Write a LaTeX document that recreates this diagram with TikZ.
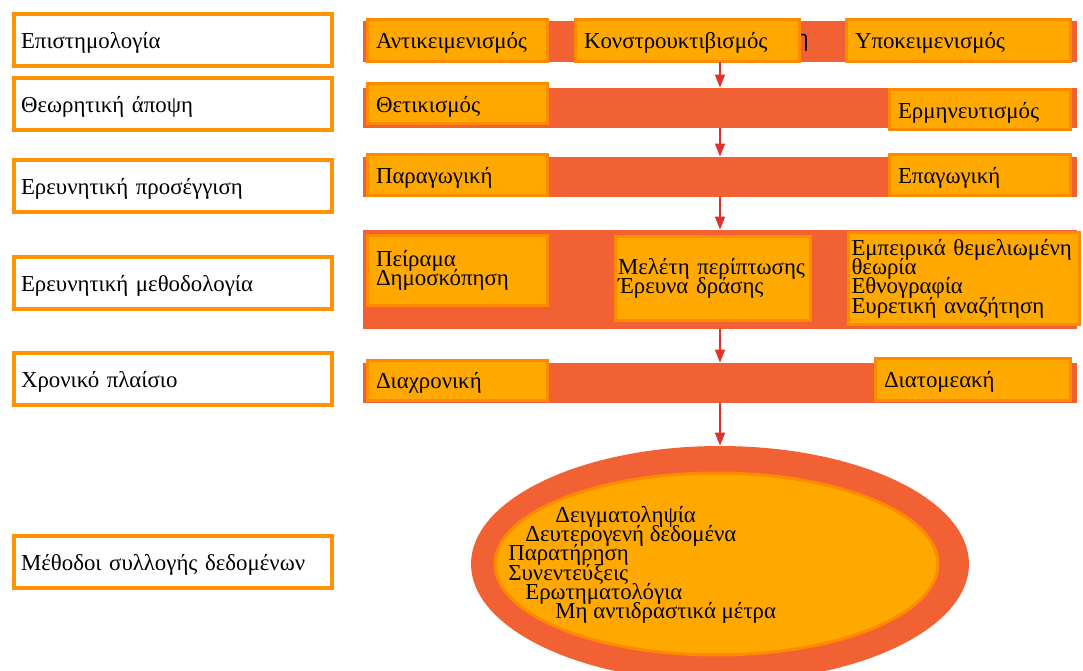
\documentclass[tikz,border=0pt]{standalone}
\usepackage{fontspec}
\setmainfont{Liberation Serif}
\newfontfamily\hiddenfont{Liberation Sans}
\usepackage{xcolor}
\usetikzlibrary{shapes.geometric,arrows.meta}
\setlength{\lineskiplimit}{-10pt}
\setlength{\normallineskiplimit}{-10pt}

\definecolor{barred}{RGB}{242,97,51}
\definecolor{boxfill}{RGB}{255,168,0}
\definecolor{boxline}{RGB}{255,138,0}
\definecolor{leftline}{RGB}{255,146,0}
\definecolor{arrowred}{RGB}{222,52,46}

\tikzset{
  level/.style={draw=leftline, line width=0.08cm, fill=white, minimum width=6.36cm,
    minimum height=1.04cm, text width=6.08cm, inner xsep=0.14cm, inner ysep=0pt,
    text depth=0pt, align=left},
  bar/.style={fill=barred, minimum width=14.28cm, inner sep=0pt},
  item/.style={draw=boxline, fill=boxfill, line width=0.06cm, inner xsep=0.17cm,
    inner ysep=0pt, align=left},
  option/.style={item, text depth=0pt},
  flow/.style={draw=arrowred, line width=0.8pt, -{Triangle[length=0.26cm,width=0.2cm]}}
}

\begin{document}
\begin{tikzpicture}[x=0.02cm, y=-0.02cm, font=\fontsize{13}{11}\selectfont]
    \useasboundingbox (0,0) rectangle (1083,671);
    \clip (0,0) rectangle (1083,671);

    % Draw the levels on the left
    \node[level] (epist) at (173,40.5) {Επιστημολογία};
    \node[level] (theory) at (173,104.5) {Θεωρητική άποψη};
    \node[level] (approach) at (173,186.5) {Ερευνητική προσέγγιση};
    \node[level] (method) at (173,283.5) {Ερευνητική μεθοδολογία};
    \node[level] (time) at (173,379.5) {Χρονικό πλαίσιο};
    \node[level] (collect) at (173,562) {Μέθοδοι συλλογής δεδομένων};

    % Draw the bars behind the options
    \node[bar, minimum height=0.82cm] (bar1) at (720,41.5) {};
    \node[bar, minimum height=0.80cm] (bar2) at (720,108) {};
    \node[bar, minimum height=0.80cm] (bar3) at (720,177) {};
    \node[bar, minimum height=1.98cm] (bar4) at (720,279.5) {};
    \node[bar, minimum height=0.80cm] (bar5) at (720,383) {};
    \node[anchor=east, inner sep=0pt, font=\hiddenfont\fontsize{13}{13}\selectfont] (hidden) at (809,43) {η};

    % Draw the options on the bars
    \node[option, text width=3.26cm, minimum height=0.84cm] (objective) at (457.5,40.5) {Αντικειμενισμός};
    \node[option, text width=4.14cm, minimum height=0.84cm] (construct) at (687.5,40.5) {Κονστρουκτιβισμός};
    \node[option, text width=4.14cm, minimum height=0.84cm] (subjective) at (958.5,40.5) {Υποκειμενισμός};
    \node[option, text width=3.26cm, minimum height=0.80cm] (positive) at (457.5,104) {Θετικισμός};
    \node[option, text width=3.28cm, minimum height=0.80cm] (interpret) at (980,110) {Ερμηνευτισμός};
    \node[option, text width=3.26cm, minimum height=0.82cm] (deduct) at (457.5,175) {Παραγωγική};
    \node[option, text width=3.28cm, minimum height=0.82cm] (induct) at (980,175) {Επαγωγική};
    \node[item, text width=3.26cm, minimum height=1.40cm] (experiment) at (457.5,270.5) {Πείραμα\\Δημοσκόπηση};
    \node[item, text width=3.80cm, inner xsep=0.05cm, minimum height=1.68cm] (casestudy) at (713,278.5) {Μελέτη περίπτωσης\\Έρευνα δράσης};
    \node[item, text width=4.50cm, inner xsep=0.06cm, minimum height=1.84cm] (grounded) at (964,278.5) {Εμπειρικά θεμελιωμένη\\θεωρία\\Εθνογραφία\\Ευρετική αναζήτηση};
    \node[option, text width=3.26cm, minimum height=0.80cm] (longit) at (457.5,380.5) {Διαχρονική};
    \node[option, text width=3.56cm, minimum height=0.84cm] (cross) at (973,379.5) {Διατομεακή};

    % Draw the ellipse of the collection methods
    \node[ellipse, fill=barred, minimum width=9.96cm, minimum height=4.72cm, inner sep=0pt] (methods) at (720,564) {};
    \node[ellipse, draw=boxline, fill=boxfill, line width=0.06cm, minimum width=8.86cm,
      minimum height=3.64cm, inner sep=0pt] (methodsin) at (716.5,564) {};
    \node[anchor=west, align=left, inner sep=0pt] (methodlist) at (508,565)
      {\hspace*{0.94cm}Δειγματοληψία\\\hspace*{0.34cm}Δευτερογενή δεδομένα\\Παρατήρηση\\Συνεντεύξεις\\
       \hspace*{0.34cm}Ερωτηματολόγια\\\hspace*{0.94cm}Μη αντιδραστικά μέτρα};

    % Draw the arrows between the bars
    \draw[flow] (bar1.south) -- (bar2.north);
    \draw[flow] (bar2.south) -- (bar3.north);
    \draw[flow] (bar3.south) -- (bar4.north);
    \draw[flow] (bar4.south) -- (bar5.north);
    \draw[flow] (bar5.south) -- (methods.north);
\end{tikzpicture}
\end{document}
